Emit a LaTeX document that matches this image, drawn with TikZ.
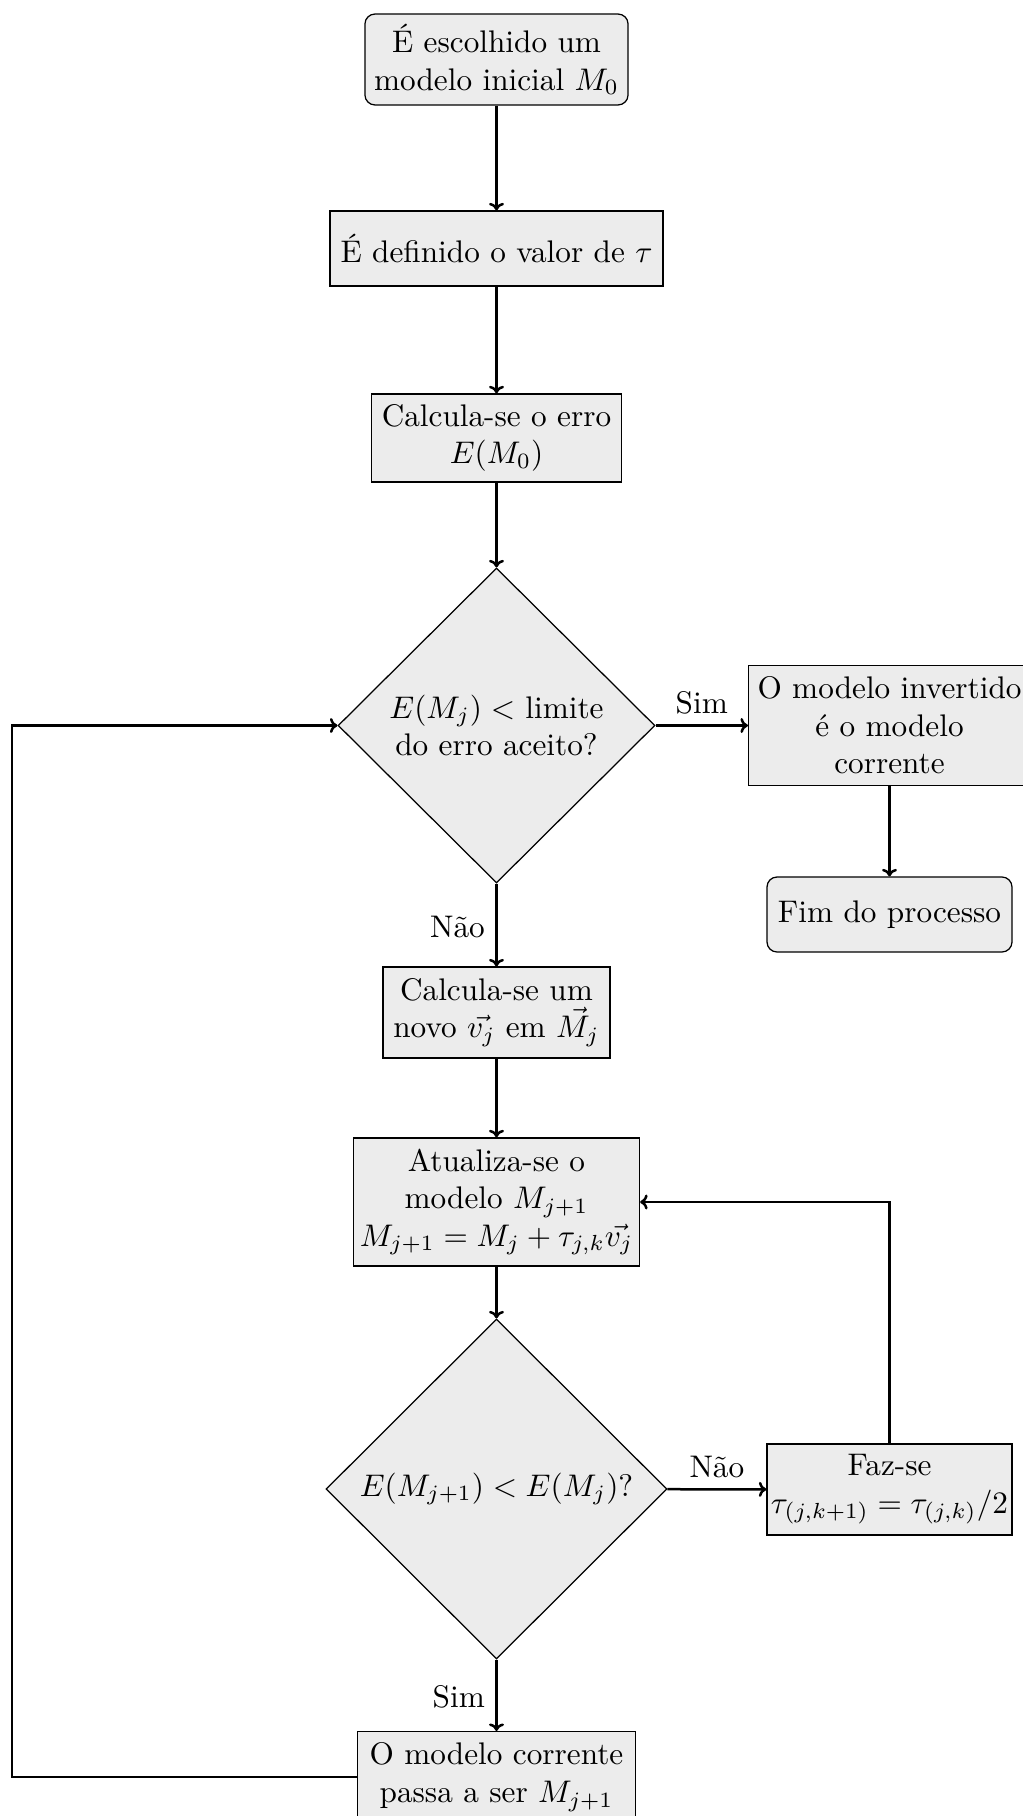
\documentclass[tikz,border=0pt]{standalone}
\usetikzlibrary{shapes.geometric,arrows.meta}
\begin{document}
\begin{tikzpicture}[x=0.32pt,y=-0.32pt,
  box/.style={draw,fill=gray!15,align=center,inner sep=2pt,font=\fontsize{10}{12}\selectfont},
  rbox/.style={box,rounded corners=3.2pt},
  dec/.style={draw,diamond,fill=gray!15,align=center,inner sep=0pt,font=\fontsize{10}{12}\selectfont},
  conn/.style={thick,-{To[length=2.4pt,width=4.8pt]}},
  lbl/.style={font=\fontsize{10}{12}\selectfont}]
\useasboundingbox (0,0) rectangle (1023,1816);
\node[rbox,minimum width=84.2pt,minimum height=29.1pt] (start) at (496.5,59.5) {É escolhido um\\modelo inicial $M_0$};
\node[box,minimum width=106.6pt,minimum height=24pt] (tau) at (496.5,248.5) {É definido o valor de $\tau$};
\node[box,minimum width=80pt,minimum height=28.2pt] (err) at (496.5,438) {Calcula-se o erro\\$E(M_0)$};
\node[dec,minimum width=101.4pt,minimum height=100.8pt] (d1) at (496.5,725.5) {$E(M_j)<$ limite\\do erro aceito?};
\node[box,minimum width=90.2pt,minimum height=38.4pt] (inv) at (889.5,725.5) {O modelo invertido\\é o modelo\\corrente};
\node[rbox,minimum width=78.4pt,minimum height=24pt] (fim) at (889.5,914.5) {Fim do processo};
\node[box,minimum width=72.6pt,minimum height=29.1pt] (novo) at (496.5,1012.5) {Calcula-se um\\novo $\vec{v_j}$ em $\vec{M_j}$};
\node[box,minimum width=90.6pt,minimum height=41pt] (atu) at (496.5,1202) {Atualiza-se o\\modelo $M_{j+1}$\\$M_{j+1}=M_j+\tau_{j,k}\vec{v_j}$};
\node[dec,minimum width=109.1pt,minimum height=108.8pt] (d2) at (496.5,1489) {$E(M_{j+1})<E(M_j)$?};
\node[box,inner sep=0.8pt,minimum width=78.4pt,minimum height=29.1pt] (faz) at (889.5,1489.5) {Faz-se\\$\tau_{(j,k+1)}=\tau_{(j,k)}/2$};
\node[box,minimum width=89pt,minimum height=29.1pt] (last) at (496.5,1777) {O modelo corrente\\passa a ser $M_{j+1}$};
\coordinate (c1) at (12,1777);
\coordinate (c2) at (12,725.5);
\coordinate (c3) at (889.5,1202);
\draw[conn] (start) -- (tau);
\draw[conn] (tau) -- (err);
\draw[conn] (err) -- (d1);
\draw[conn] (d1) -- node[lbl,above] {Sim} (inv);
\draw[conn] (inv) -- (fim);
\draw[conn] (d1) -- node[lbl,left,pos=0.52] {Não} (novo);
\draw[conn] (novo) -- (atu);
\draw[conn] (atu) -- (d2);
\draw[conn] (d2) -- node[lbl,above] {Não} (faz);
\draw[conn] (faz.north) -- (c3) -- (atu.east |- c3);
\draw[conn] (d2) -- node[lbl,left,pos=0.52] {Sim} (last);
\draw[conn] (last.west |- c1) -- (c1) -- (c2) -- (d1.west);
\end{tikzpicture}
\end{document}
